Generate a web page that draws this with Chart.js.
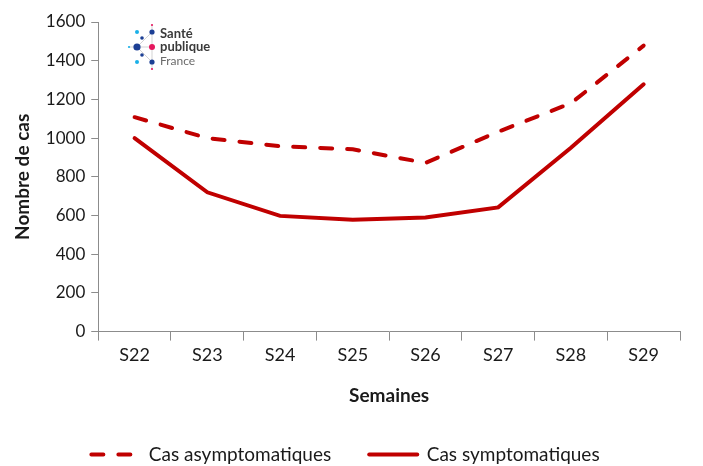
<!DOCTYPE html>
<html>
<head>
<meta charset="utf-8">
<script src="https://cdn.jsdelivr.net/npm/chart.js@4/dist/chart.umd.min.js"></script>
<style>
  html, body { margin: 0; padding: 0; background: #fff; }
  #wrap { position: relative; width: 703px; height: 466px; }
</style>
</head>
<body>
<div id="wrap"><canvas id="myChart" width="703" height="466"></canvas></div>
<script>
const semaines = ["S22", "S23", "S24", "S25", "S26", "S27", "S28", "S29"];
const asymptomatiques = [1108, 1000, 958, 942, 872, 1033, 1180, 1478];
const symptomatiques = [1000, 720, 598, 578, 590, 642, 950, 1278];
const yTicks = [0, 200, 400, 600, 800, 1000, 1200, 1400, 1600];

const rouge = "#c00000";
const gris = "#8c8c8c";
const police = "Lato, 'Open Sans', sans-serif";
const tirets = [12, 15];

// logo Santé publique France, dessiné dans le coin du graphique
const logoPlugin = {
  id: "logo",
  afterDraw(chart) {
    const ctx = chart.ctx;
    ctx.save();
    ctx.strokeStyle = "#c8c8c8";
    ctx.lineWidth = 0.8;
    ctx.beginPath();
    ctx.moveTo(152, 25); ctx.lineTo(152, 69);
    ctx.moveTo(129, 47); ctx.lineTo(152, 47);
    ctx.moveTo(137, 47); ctx.lineTo(152, 32);
    ctx.moveTo(137, 47); ctx.lineTo(152, 62);
    ctx.stroke();
    const dots = [
      [137, 32, 2, "#1ab0e8"], [152, 32, 2.6, "#1c3f94"], [142, 38, 1.8, "#1c3f94"],
      [129, 47, 1.1, "#1ab0e8"], [137, 47, 3.6, "#1c3f94"], [152, 47, 3, "#e5175e"],
      [142, 55, 1.8, "#1c3f94"], [137, 62, 2, "#1ab0e8"], [152, 62, 2.6, "#1c3f94"],
      [152, 25, 1.1, "#e5175e"], [152, 69, 1.1, "#e5175e"]
    ];
    dots.forEach(([x, y, r, c]) => {
      ctx.fillStyle = c;
      ctx.beginPath();
      ctx.arc(x, y, r, 0, Math.PI * 2);
      ctx.fill();
    });
    ctx.textBaseline = "middle";
    ctx.fillStyle = "#3a3a3a";
    ctx.font = "bold 13px " + police;
    ctx.fillText("Santé", 160, 34);
    ctx.fillText("publique", 160, 47);
    ctx.fillStyle = "#6a6a6a";
    ctx.font = "12px " + police;
    ctx.fillText("France", 160, 61);
    ctx.restore();
  }
};

new Chart("myChart", {
  type: "line",
  data: {
    labels: semaines,
    datasets: [
      {
        label: "Cas asymptomatiques",
        data: asymptomatiques,
        borderColor: rouge,
        backgroundColor: rouge,
        borderWidth: 4,
        borderDash: tirets,
        borderCapStyle: "round",
        pointRadius: 0,
        tension: 0,
        fill: false
      },
      {
        label: "Cas symptomatiques",
        data: symptomatiques,
        borderColor: rouge,
        backgroundColor: rouge,
        borderWidth: 4,
        borderCapStyle: "round",
        pointRadius: 0,
        tension: 0,
        fill: false
      }
    ]
  },
  options: {
    responsive: false,
    animation: false,
    layout: { padding: { left: 11, right: 23, top: 22, bottom: -8 } },
    plugins: {
      tooltip: { enabled: false },
      legend: {
        position: "bottom",
        labels: {
          usePointStyle: true,
          pointStyle: "line",
          pointStyleWidth: 48,
          boxHeight: 18,
          padding: 38,
          color: "#1a1a1a",
          font: { family: police, size: 19 },
          generateLabels: (chart) => {
            const items = Chart.defaults.plugins.legend.labels.generateLabels(chart);
            items.forEach((item, i) => {
              const ds = chart.data.datasets[i];
              item.lineDash = ds.borderDash || [];
              item.lineWidth = 4;
              item.lineCap = "round";
              item.strokeStyle = rouge;
            });
            return items;
          }
        }
      }
    },
    scales: {
      x: {
        offset: true,
        grid: { offset: true, drawOnChartArea: false, color: gris, tickLength: 9 },
        border: { color: gris },
        ticks: { color: "#1a1a1a", font: { family: police, size: 18 }, padding: 4 },
        title: {
          display: true,
          text: "Semaines",
          color: "#1a1a1a",
          font: { family: police, size: 19, weight: "bold" },
          padding: { top: 14, bottom: 0 }
        }
      },
      y: {
        min: 0,
        max: 1600,
        afterBuildTicks: (axis) => { axis.ticks = yTicks.map((v) => ({ value: v })); },
        grid: { drawOnChartArea: false, color: gris, tickLength: 7 },
        border: { color: gris },
        ticks: {
          color: "#1a1a1a",
          font: { family: police, size: 17 },
          padding: 6,
          callback: (v) => String(v)
        },
        title: {
          display: true,
          text: "Nombre de cas",
          color: "#1a1a1a",
          font: { family: police, size: 19, weight: "bold" },
          padding: { top: 0, bottom: 6 }
        }
      }
    }
  },
  plugins: [logoPlugin]
});
</script>
</body>
</html>
